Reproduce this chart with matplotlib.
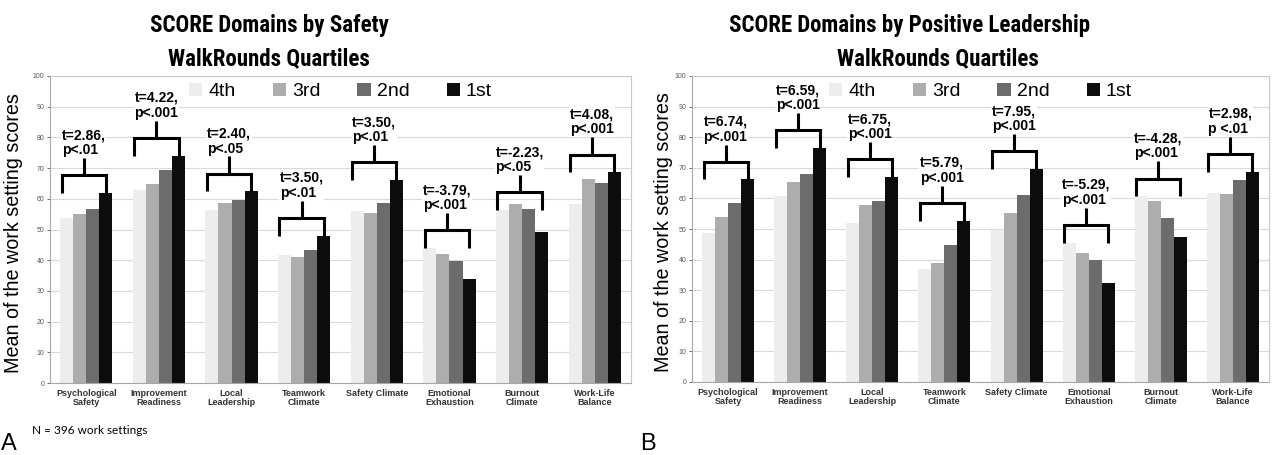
import matplotlib
matplotlib.use("Agg")
import matplotlib.pyplot as plt
from matplotlib.patches import Patch
from matplotlib import font_manager

plt.rcParams['font.family'] = ['Liberation Sans', 'DejaVu Sans']

# ---------------- data ----------------
categories = ["Psychological\nSafety", "Improvement\nReadiness", "Local\nLeadership",
              "Teamwork\nClimate", "Safety Climate", "Emotional\nExhaustion",
              "Burnout\nClimate", "Work-Life\nBalance"]
quartiles = ["4th", "3rd", "2nd", "1st"]

a_4th = [53.8, 62.8, 56.4, 41.8, 56.0, 43.9, 56.3, 58.3]
a_3rd = [55.1, 64.8, 58.6, 41.0, 55.5, 42.0, 58.2, 66.3]
a_2nd = [56.8, 69.5, 59.7, 43.3, 58.6, 39.8, 56.8, 65.3]
a_1st = [61.8, 74.0, 62.4, 47.9, 66.1, 33.8, 49.3, 68.6]

b_4th = [48.6, 60.7, 52.1, 36.8, 49.8, 45.5, 60.7, 61.9]
b_3rd = [53.9, 65.4, 58.0, 39.0, 55.2, 42.3, 59.2, 61.5]
b_2nd = [58.5, 68.1, 59.2, 44.9, 61.0, 39.9, 53.7, 66.0]
b_1st = [66.2, 76.4, 67.0, 52.7, 69.6, 32.3, 47.5, 68.7]

a_stats = ["t=2.86,\np<.01", "t=4.22,\np<.001", "t=2.40,\np<.05", "t=3.50,\np<.01",
           "t=3.50,\np<.01", "t=-3.79,\np<.001", "t=-2.23,\np<.05", "t=4.08,\np<.001"]
b_stats = ["t=6.74,\np<.001", "t=6.59,\np<.001", "t=6.75,\np<.001", "t=5.79,\np<.001",
           "t=7.95,\np<.001", "t=-5.29,\np<.001", "t=-4.28,\np<.001", "t=2.98,\np <.01"]

title_a = ["SCORE Domains by Safety", "WalkRounds Quartiles"]
title_b = ["SCORE Domains by Positive Leadership", "WalkRounds Quartiles"]
ylabel = "Mean of the work setting scores"

colors = ['#ededed', '#adadad', '#6c6c6c', '#0c0c0c']

installed = {f.name for f in font_manager.fontManager.ttflist}
title_family = ['Liberation Sans']
title_size = 14.2
for cand in ['Liberation Sans Narrow', 'Arial Narrow', 'Roboto Condensed',
             'Open Sans Condensed', 'DejaVu Sans Condensed']:
    if cand in installed:
        title_family = [cand, 'Liberation Sans']
        title_size = 16.5
        break

W, H = 1279, 455
fig = plt.figure(figsize=(W / 100, H / 100), dpi=100)
axA = fig.add_axes([50 / W, (H - 383) / H, 581 / W, 307 / H])
axB = fig.add_axes([692 / W, (H - 382) / H, 577 / W, 306 / H])

bw = 0.18


def draw(ax, series, stats):
    q4, q3, q2, q1 = series
    for j, vals in enumerate(series):
        xs = [i + (j - 1.5) * bw for i in range(len(categories))]
        ax.bar(xs, vals, width=bw, color=colors[j], edgecolor='none', zorder=2)
    for i in range(len(categories)):
        base = max(q4[i], q1[i])
        h = base + 5.8
        top = h + 5.6
        xl = i - 2 * bw + 0.02
        xr = i + 1.5 * bw
        xm = (xl + xr) / 2
        ax.plot([xl, xl, xr, xr], [base, h, h, base], color='black', lw=2.2,
                solid_joinstyle='miter', solid_capstyle='butt', zorder=4)
        ax.plot([xm, xm], [h, top], color='black', lw=2.2, solid_capstyle='butt', zorder=4)
        ax.text(xm, top + 0.3, stats[i], ha='center', va='bottom', multialignment='left',
                fontsize=10, fontweight='bold', linespacing=1.1, zorder=3,
                bbox=dict(facecolor='white', edgecolor='none', pad=0.5))
    ax.set_xlim(-0.5, len(categories) - 0.5)
    ax.set_ylim(0, 100)
    ax.set_yticks(range(0, 101, 10))
    ax.tick_params(axis='y', labelsize=5, colors='#555555', length=2.5, width=0.6, pad=1.5)
    ax.set_xticks(range(len(categories)))
    ax.set_xticklabels(categories, fontsize=6.5, fontweight='bold', color='#333333', linespacing=1.1)
    ax.tick_params(axis='x', length=0, pad=4)
    ax.grid(axis='y', color='#d9d9d9', lw=0.8)
    ax.set_axisbelow(True)
    for s in ['left', 'bottom']:
        ax.spines[s].set_color('#a6a6a6')
        ax.spines[s].set_linewidth(0.8)
    for s in ['top', 'right']:
        ax.spines[s].set_color('#c8c8c8')
        ax.spines[s].set_linewidth(0.8)
    ax.set_ylabel(ylabel, fontsize=14.2)
    handles = [Patch(facecolor=c, edgecolor='none') for c in colors]
    leg = ax.legend(handles, quartiles, loc='upper center', bbox_to_anchor=(0.5, 1.0), ncol=4,
                    fontsize=14, handlelength=0.7, handleheight=0.7, handletextpad=0.3,
                    columnspacing=1.9, borderaxespad=0.15, borderpad=0.2,
                    frameon=True, fancybox=False, framealpha=1, facecolor='white', edgecolor='none')
    leg.set_zorder(5)


draw(axA, [a_4th, a_3rd, a_2nd, a_1st], a_stats)
draw(axB, [b_4th, b_3rd, b_2nd, b_1st], b_stats)

axA.yaxis.set_label_coords(-0.046, 0.49)
axB.yaxis.set_label_coords(-0.033, 0.49)

fig.text(269 / W, 1 - 32 / H, title_a[0], ha='center', va='baseline', fontsize=title_size,
         fontweight='bold', family=title_family)
fig.text(269 / W, 1 - 65 / H, title_a[1], ha='center', va='baseline', fontsize=title_size,
         fontweight='bold', family=title_family)
fig.text(910 / W, 1 - 32 / H, title_b[0], ha='center', va='baseline', fontsize=title_size,
         fontweight='bold', family=title_family)
fig.text(938 / W, 1 - 65 / H, title_b[1], ha='center', va='baseline', fontsize=title_size,
         fontweight='bold', family=title_family)

fig.text(32 / W, 1 - 431 / H, "N = 396 work settings", ha='left', va='center', fontsize=8.5,
         family=['Lato', 'DejaVu Sans'])
fig.text(0.001, 5 / H, "A", ha='left', va='baseline', fontsize=17)
fig.text(640 / W, 5 / H, "B", ha='left', va='baseline', fontsize=17)

fig.savefig("out.png", dpi=100)
